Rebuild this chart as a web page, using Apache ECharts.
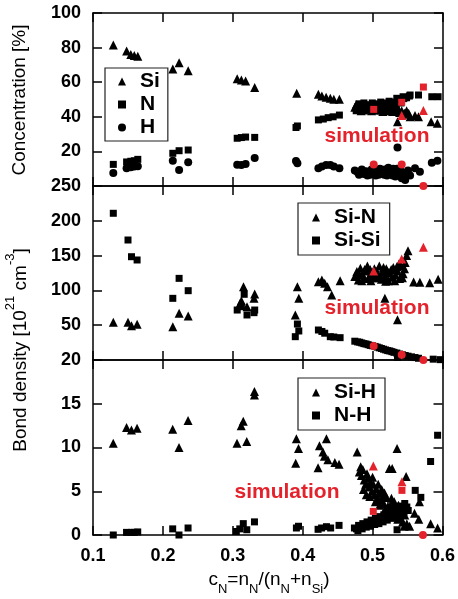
<!DOCTYPE html>
<html><head><meta charset="utf-8">
<script src="https://cdn.jsdelivr.net/npm/echarts@6/dist/echarts.min.js"></script>
<style>html,body{margin:0;padding:0;background:#fff}#c{width:458px;height:599px}</style>
</head><body><div id="c"></div>
<script>
// ---------- data ----------
const xTickLabels = ['0.1','0.2','0.3','0.4','0.5','0.6'];
const concTicks = [0,20,40,60,80,100];
const bondTicks = [0,50,100,150,200,250];
const hTicks = [0,5,10,15,20];

// Top panel: concentration [%]
const concSi = [[0.129,81.5],[0.148,78],[0.154,76],[0.159,75.5],[0.164,75],
  [0.214,67.6],[0.223,71.3],[0.236,66.6],
  [0.306,62],[0.312,61.3],[0.318,60.7],[0.331,57],
  [0.391,53.6],
  [0.422,53],[0.427,52],[0.433,51.3],[0.439,50.7],[0.444,50.1],[0.452,50.1],
  [0.474,45.5],[0.478,44.5],[0.481,46],[0.484,45],[0.487,44],[0.489,46.5],[0.492,45],[0.495,44.5],
  [0.497,46],[0.500,45.5],[0.503,44],[0.505,46.5],[0.508,45],[0.511,44],[0.513,46],[0.516,45],
  [0.519,43.5],[0.522,45],[0.525,44],[0.528,43],[0.531,44.5],[0.534,43],[0.538,42.5],[0.541,43.5],
  [0.545,42],[0.548,43.5],[0.551,42],
  [0.476,47],[0.483,43.5],[0.491,47],[0.498,43.5],[0.506,44.5],[0.514,43],[0.521,46.5],[0.527,45.5],
  [0.533,45],[0.537,44],[0.543,41.5],
  [0.553,40],[0.560,40.7],[0.565,40],[0.583,37.2],[0.592,36.2],[0.535,37.2]];
const concN = [[0.129,12.5],[0.148,13.9],[0.154,14.3],[0.159,14.6],[0.164,15.4],
  [0.214,18.9],[0.223,20.4],[0.236,20.8],
  [0.306,27.6],[0.312,28],[0.318,28.3],[0.331,28.1],
  [0.390,33.8],[0.392,34.7],
  [0.422,38.2],[0.429,38.7],[0.436,39.5],[0.443,40],[0.452,41],
  [0.476,43.5],[0.479,46],[0.482,44],[0.485,47],[0.488,45.5],[0.491,44],[0.494,47],[0.497,45],
  [0.500,46.5],[0.503,45],[0.506,47.5],[0.509,46],[0.512,47],[0.515,45.5],[0.518,48],[0.521,46.5],
  [0.524,47.5],[0.527,46],[0.530,48.5],[0.533,47],[0.536,49.5],[0.540,48],[0.544,50.5],[0.548,51],
  [0.552,52],
  [0.480,47.5],[0.487,48],[0.493,46],[0.499,48],[0.505,46],[0.511,48.5],[0.517,46.5],[0.523,49],
  [0.529,47],[0.538,50.5],
  [0.534,50.7],[0.543,51.6],[0.553,52.6],[0.565,52.6],[0.584,51.6],[0.593,51.6]];
const concH = [[0.129,7.5],[0.148,10.2],[0.154,10.8],[0.159,11.2],[0.164,11.4],
  [0.214,14.6],[0.223,9.2],[0.236,13.7],
  [0.306,12.3],[0.312,12.1],[0.318,12.7],[0.331,16.2],
  [0.390,14.5],[0.392,13.1],
  [0.422,10.2],[0.427,11.2],[0.433,12.1],[0.439,12.1],[0.444,11.2],[0.452,10.2],
  [0.474,9],[0.478,8],[0.481,7.5],[0.484,9.5],[0.487,7],[0.490,8.5],[0.493,7.5],[0.496,6.5],
  [0.499,8],[0.502,7],[0.505,9],[0.508,6.5],[0.511,8],[0.514,7.5],[0.517,9.5],[0.520,6],
  [0.523,8.5],[0.526,7],[0.529,10],[0.532,5.5],[0.535,8],[0.538,6.5],[0.541,4.5],[0.544,7.5],
  [0.547,5.5],[0.550,9],[0.553,6],
  [0.480,6.5],[0.486,8.5],[0.492,6],[0.498,9.5],[0.504,6],[0.510,10],[0.516,6.5],[0.522,10.5],
  [0.528,6],[0.534,10],[0.540,8.5],[0.546,3.5],[0.549,7],
  [0.535,22.3],[0.560,10.2],[0.567,8.3],[0.584,13.5],[0.592,14.6]];
const simConcSi = [[0.541,40.7],[0.572,43.7]];
const simConcN = [[0.501,44.3],[0.541,48.4],[0.572,57.2]];
const simConcH = [[0.501,12.5],[0.541,12.5],[0.572,0]];

// Middle panel: Si-N, Si-Si bond density
const bondSiN = [[0.129,54.1],[0.150,54.1],[0.155,49.3],[0.163,51.2],
  [0.214,47.9],[0.223,67],[0.236,63.2],
  [0.315,105.3],[0.312,85.2],[0.310,81],[0.320,76.6],[0.331,94.8],[0.330,88.6],
  [0.392,105.3],[0.394,88.6],[0.389,64.7],
  [0.422,112.5],[0.427,115],[0.431,110.2],[0.435,105.3],[0.441,93.4],[0.453,114],
  [0.474,120],[0.477,127],[0.479,115],[0.482,132],[0.485,123],[0.487,118],[0.490,128],[0.492,135],
  [0.495,120],[0.497,114],[0.499,125],[0.502,131],[0.504,118],[0.507,124],[0.509,135],[0.512,116],
  [0.514,127],[0.517,121],[0.519,131],[0.522,114],[0.524,125],[0.527,119],[0.529,133],[0.532,122],
  [0.535,128],[0.538,117],[0.540,135],[0.543,124],[0.546,140],[0.548,150],[0.550,157],[0.545,131],
  [0.537,138],
  [0.480,124],[0.484,114],[0.488,130],[0.493,117],[0.496,130],[0.500,118],[0.505,127],[0.510,121],
  [0.515,133],[0.518,113],[0.521,127],[0.526,130],[0.531,114],[0.534,134],[0.542,118],
  [0.558,112],[0.567,111.6],[0.581,111],[0.593,116],[0.517,88.6],[0.535,58]];
const bondSiSi = [[0.129,210.8],[0.150,172.4],[0.155,148.4],[0.163,143.7],
  [0.214,88.6],[0.223,117.3],[0.236,99.6],
  [0.306,71.8],[0.312,76.6],[0.316,94.4],[0.320,64.7],[0.331,71.8],[0.330,68],
  [0.392,51.7],[0.394,41.7],[0.389,33.5],
  [0.422,43.1],[0.427,41],[0.431,38.5],[0.439,33.5],[0.444,33],[0.453,32.1],
  [0.474,27],[0.478,26],[0.481,25.5],[0.484,24.5],[0.487,23.5],[0.490,23],[0.493,22],[0.496,21],
  [0.499,20.5],[0.503,19.5],[0.506,18.5],[0.509,17.5],[0.512,16.5],[0.515,15.5],[0.518,14.5],
  [0.521,13.5],[0.524,13],[0.527,12],[0.530,11],[0.534,10],[0.538,8.5],[0.542,7.5],[0.546,6.5],
  [0.550,5.5],[0.555,4.5],[0.560,3.5],[0.565,2.5],[0.586,1.2],[0.596,0.5],[0.535,3.8]];
const simSiN = [[0.501,128],[0.541,145],[0.572,162]];
const simSiSi = [[0.501,20],[0.541,7.5],[0.572,0]];

// Bottom panel: Si-H, N-H bond density
const bondSiH = [[0.129,10.5],[0.148,12.3],[0.155,12],[0.163,12.2],
  [0.214,12.1],[0.223,10],[0.236,13.1],
  [0.306,10.5],[0.312,12.5],[0.315,13],[0.320,10.7],[0.331,16],[0.331,16.4],
  [0.391,11],[0.394,9.9],[0.390,8.2],
  [0.434,11],[0.424,10.2],[0.429,9.5],[0.431,9.0],[0.436,8.6],[0.446,8.3],[0.452,8.1],[0.422,7.7],
  [0.478,9.5],[0.481,7.2],[0.484,6.8],[0.486,7.5],[0.488,6.3],[0.490,5.8],[0.491,4.6],[0.493,6.5],
  [0.495,5.5],[0.497,6.0],[0.499,5.0],[0.501,5.8],[0.503,4.6],[0.505,5.3],[0.507,4.2],[0.509,4.8],
  [0.510,3.4],[0.512,4.0],[0.514,4.5],[0.516,3.6],[0.518,3.0],[0.520,4.3],[0.522,3.3],[0.524,2.6],
  [0.526,3.5],[0.528,2.8],[0.530,2.2],[0.532,3.0],[0.534,2.4],[0.536,1.8],[0.538,2.7],[0.540,2.0],
  [0.543,1.5],[0.546,2.3],[0.549,1.3],[0.553,1.0],
  [0.483,7.8],[0.487,5.2],[0.492,7.0],[0.496,4.4],[0.500,6.6],[0.504,3.8],[0.508,5.8],[0.513,5.2],
  [0.517,4.8],[0.521,2.4],[0.527,4.2],[0.531,3.8],[0.537,3.4],[0.541,2.9],[0.545,1.0],
  [0.524,7.6],[0.528,7.6],[0.535,9.9],[0.548,6.7],[0.560,2.5],[0.567,3.8],[0.566,1.8],[0.583,1.3],[0.593,0.8]];
const bondNH = [[0.129,0],[0.148,0.3],[0.155,0.3],[0.159,0.3],[0.164,0.35],
  [0.214,0.7],[0.223,0],[0.236,0.8],
  [0.305,0.4],[0.310,0.7],[0.315,1.3],[0.320,0.6],[0.331,1.5],
  [0.391,0.8],[0.394,1.0],
  [0.422,0.65],[0.427,0.8],[0.434,0.95],[0.440,0.8],[0.452,1.1],
  [0.474,0.8],[0.477,0.7],[0.480,1.1],[0.483,0.9],[0.486,1.3],[0.489,1.0],[0.492,1.5],[0.495,1.2],
  [0.498,1.7],[0.501,1.4],[0.504,1.9],[0.507,1.6],[0.510,2.1],[0.513,1.8],[0.516,2.3],[0.519,2.0],
  [0.522,2.5],[0.525,2.2],[0.528,2.8],[0.531,2.5],[0.534,3.0],[0.537,2.7],[0.540,3.3],[0.543,3.0],
  [0.546,3.6],[0.549,3.2],
  [0.479,0.5],[0.485,0.7],[0.491,0.9],[0.497,1.0],[0.503,1.2],[0.509,1.3],[0.515,1.5],[0.521,1.7],
  [0.527,1.9],[0.533,2.1],[0.539,2.4],[0.545,2.6],[0.551,2.8],
  [0.535,0.6],[0.561,5.1],[0.569,4.3],[0.583,8.4],[0.593,11.4]];
const simSiH = [[0.501,7.9],[0.542,6.1]];
const simNH = [[0.501,2.7],[0.542,5.1]];
const simH0 = [[0.572,0]];

// ---------- chart ----------
const FONT = '"Liberation Sans", Arial, Helvetica, sans-serif';
const RED = '#e4222b';
const BLACK = '#000';
const chart = echarts.init(document.getElementById('c'), null, {renderer:'canvas'});

const grids = [
  {left:93, top:13, width:350, height:173},
  {left:93, top:186, width:350, height:174},
  {left:93, top:360, width:350, height:175}
];
const lineSt = {color:BLACK, width:1.5};
function xAx(g, pos, showLabel){
  return {type:'value', gridIndex:g, position:pos, min:0.1, max:0.6, interval:0.1,
    axisLine:{show:true, onZero:false, lineStyle:lineSt},
    axisTick:{show:true, inside:true, length:9, lineStyle:lineSt},
    splitLine:{show:false},
    axisLabel:{show:showLabel, margin:12, color:BLACK, fontSize:18, fontWeight:'bold', fontFamily:FONT,
      formatter:v => xTickLabels[Math.round((v-0.1)*10)]}};
}
function yAx(g, pos, ticks, showLabel, showMin){
  const step = ticks[1]-ticks[0];
  return {type:'value', gridIndex:g, position:pos, min:ticks[0], max:ticks[ticks.length-1], interval:step,
    axisLine:{show:true, onZero:false, lineStyle:lineSt},
    axisTick:{show:true, inside:true, length:9, lineStyle:lineSt},
    splitLine:{show:false},
    axisLabel:{show:showLabel, showMinLabel:showMin, margin:12, color:BLACK, fontSize:18, fontWeight:'bold', fontFamily:FONT}};
}
function sc(name, data, xi, yi, symbol, size, color, z){
  return {type:'scatter', name:name, data:data, xAxisIndex:xi, yAxisIndex:yi, symbol:symbol,
    symbolSize:size, itemStyle:{color:color, opacity:1}, z:z, silent:true, animation:false};
}
function legend(left, top, items, pad){
  return {show:true, orient:'vertical', left:left, top:top, selectedMode:false,
    backgroundColor:'#fff', borderColor:'#222', borderWidth:1.2, borderRadius:0,
    padding:pad, itemGap:2, itemWidth:8, itemHeight:8,
    textStyle:{fontSize:21, fontWeight:'bold', fontFamily:FONT, color:BLACK, lineHeight:21, padding:[0,0,0,9]},
    data:items};
}
const TRI = 'triangle', SQ = 'rect', CIR = 'circle';

const option = {
  backgroundColor:'#fff',
  animation:false,
  grid:grids,
  xAxis:[xAx(0,'bottom',false), xAx(0,'top',false), xAx(1,'bottom',false), xAx(1,'top',false), xAx(2,'bottom',true), xAx(2,'top',false)],
  yAxis:[yAx(0,'left',concTicks,true,false), yAx(0,'right',concTicks,false,false),
         yAx(1,'left',bondTicks,true,false), yAx(1,'right',bondTicks,false,false),
         yAx(2,'left',hTicks,true,true), yAx(2,'right',hTicks,false,false)],
  legend:[
    legend(105, 68, [{name:'Si',icon:TRI},{name:'N',icon:SQ},{name:'H',icon:CIR}], [3,8,3,13]),
    legend(298, 203, [{name:'Si-N',icon:TRI},{name:'Si-Si',icon:SQ}], [4,9,4,14]),
    legend(298, 378, [{name:'Si-H',icon:TRI},{name:'N-H',icon:SQ}], [4,9,4,14])
  ],
  series:[
    sc('Si', concSi, 0, 0, TRI, 9, BLACK, 2),
    sc('N', concN, 0, 0, SQ, 7, BLACK, 2),
    sc('H', concH, 0, 0, CIR, 8, BLACK, 2),
    sc('sim Si', simConcSi, 0, 0, TRI, 9, RED, 3),
    sc('sim N', simConcN, 0, 0, SQ, 7, RED, 3),
    sc('sim H', simConcH, 0, 0, CIR, 8, RED, 3),
    sc('Si-N', bondSiN, 2, 2, TRI, 9, BLACK, 2),
    sc('Si-Si', bondSiSi, 2, 2, SQ, 7, BLACK, 2),
    sc('sim Si-N', simSiN, 2, 2, TRI, 9, RED, 3),
    sc('sim Si-Si', simSiSi, 2, 2, CIR, 8, RED, 3),
    sc('Si-H', bondSiH, 4, 4, TRI, 9, BLACK, 2),
    sc('N-H', bondNH, 4, 4, SQ, 7, BLACK, 2),
    sc('sim Si-H', simSiH, 4, 4, TRI, 9, RED, 3),
    sc('sim N-H', simNH, 4, 4, SQ, 7, RED, 3),
    sc('sim 0', simH0, 4, 4, CIR, 8, RED, 3)
  ],
  graphic:[
    {type:'text', x:377, y:136, z:10, style:{text:'simulation', fill:RED, font:'bold 21px '+FONT, align:'center', verticalAlign:'middle', textAlign:'center', textVerticalAlign:'middle'}},
    {type:'text', x:377, y:308, z:10, style:{text:'simulation', fill:RED, font:'bold 21px '+FONT, align:'center', verticalAlign:'middle', textAlign:'center', textVerticalAlign:'middle'}},
    {type:'text', x:287, y:492, z:10, style:{text:'simulation', fill:RED, font:'bold 21px '+FONT, align:'center', verticalAlign:'middle', textAlign:'center', textVerticalAlign:'middle'}},
    {type:'text', x:20, y:100, rotation:Math.PI/2, style:{text:'Concentration [%]', fill:BLACK, font:'19px '+FONT, align:'center', verticalAlign:'middle', textAlign:'center', textVerticalAlign:'middle'}},
    {type:'text', x:17, y:350, rotation:Math.PI/2, style:{
      text:'{a|Bond density [10}{s|21}{a| cm}{s|-3}{a|]}', fill:BLACK, align:'center', verticalAlign:'middle', textAlign:'center', textVerticalAlign:'middle',
      rich:{a:{font:'19px '+FONT, fill:BLACK, padding:[7,0,0,0], verticalAlign:'bottom'}, s:{font:'13px '+FONT, fill:BLACK, verticalAlign:'top'}}}},
    {type:'text', x:269, y:583, style:{
      text:'{a|c}{b|N}{a|=n}{b|N}{a|/(n}{b|N}{a|+n}{b|Si}{a|)}', fill:BLACK, align:'center', verticalAlign:'middle', textAlign:'center', textVerticalAlign:'middle',
      rich:{a:{font:'19px '+FONT, fill:BLACK, padding:[0,0,6,0], verticalAlign:'top'}, b:{font:'13px '+FONT, fill:BLACK, verticalAlign:'bottom'}}}}
  ]
};
chart.setOption(option);
</script></body></html>
